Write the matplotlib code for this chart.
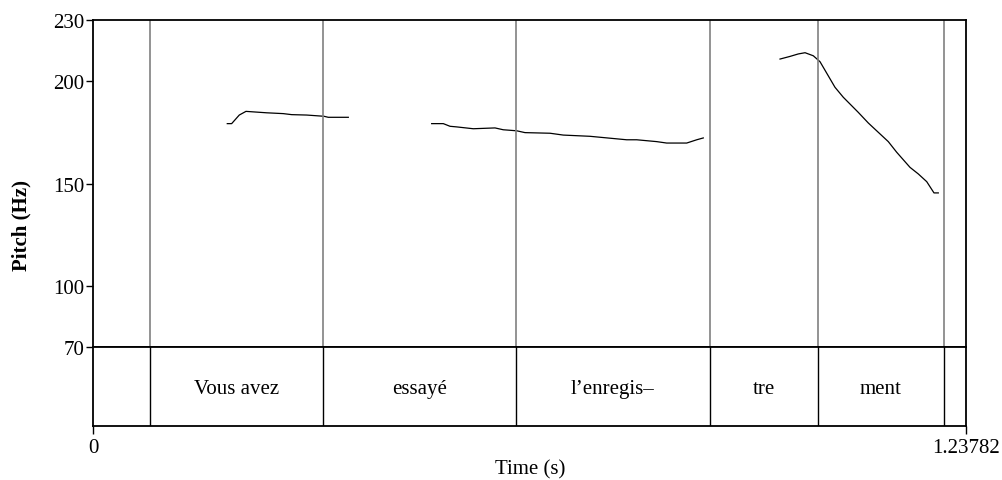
import matplotlib.pyplot as plt

plt.rcParams['font.family'] = ['Liberation Serif', 'DejaVu Serif']

# Pitch contour pieces (time in s, F0 in Hz)
t1 = [0.1904, 0.1966, 0.2074, 0.2169, 0.2463, 0.2698, 0.2817, 0.3030, 0.3275, 0.3336, 0.3620]
f1 = [179.3, 179.3, 183.5, 185.3, 184.6, 184.2, 183.7, 183.5, 182.9, 182.4, 182.4]

t2 = [0.4802, 0.4967, 0.5062, 0.5157, 0.5392, 0.5700, 0.5817, 0.6007, 0.6125, 0.6480,
      0.6668, 0.7047, 0.7567, 0.7709, 0.7992, 0.8134, 0.8418, 0.8560, 0.8653]
f2 = [179.3, 179.3, 178.0, 177.7, 176.8, 177.2, 176.3, 175.8, 174.9, 174.6,
      173.7, 173.1, 171.4, 171.4, 170.5, 169.8, 169.8, 171.4, 172.3]

t3 = [0.9741, 0.9883, 1.0000, 1.0096, 1.0213, 1.0308, 1.0425, 1.0520, 1.0638, 1.0851,
      1.0993, 1.1276, 1.1395, 1.1584, 1.1701, 1.1821, 1.1924, 1.1985]
f3 = [210.9, 212.2, 213.4, 214.0, 212.5, 209.6, 202.7, 197.1, 192.2, 184.8,
      179.6, 170.5, 165.3, 157.9, 154.7, 150.9, 145.4, 145.4]

# TextGrid tier: interval boundaries and labels
t_end = 1.23782
boundaries = [0.0808, 0.3261, 0.5997, 0.8748, 1.0279, 1.2066]
edges = [0.0] + boundaries + [t_end]
labels = ['', 'Vous avez', 'essayé', 'l\u2019enregis\u2013', 'tre', 'ment', '']

pitch_ticks = [70, 100, 150, 200, 230]

fs = 15

fig = plt.figure(figsize=(10.02, 4.81), dpi=100)
ax = fig.add_axes([0.0928, 0.2765, 0.8713, 0.6798])
tier = fig.add_axes([0.0928, 0.1123, 0.8713, 0.1642])

for t, f in [(t1, f1), (t2, f2), (t3, f3)]:
    ax.plot(t, f, color='black', lw=0.9)

for b in boundaries:
    ax.axvline(b, color='#808080', lw=1.2)
    tier.axvline(b, color='black', lw=1.0)

ax.set_xlim(0, t_end)
ax.set_ylim(70, 230)
ax.set_yticks(pitch_ticks)
ax.set_xticks([])
ax.tick_params(axis='y', direction='out', length=5, width=1, labelsize=fs, pad=1)

for i, lab in enumerate(labels):
    tier.text((edges[i] + edges[i + 1]) / 2, 0.48, lab, ha='center', va='center',
              fontsize=fs, transform=tier.get_xaxis_transform())

tier.set_xlim(0, t_end)
tier.set_ylim(0, 1)
tier.set_yticks([])
tier.set_xticks([0, t_end])
tier.set_xticklabels(['0', '1.23782'])
tier.tick_params(axis='x', direction='out', length=6, width=1, labelsize=fs, pad=3)

for a in (ax, tier):
    for s in a.spines.values():
        s.set_linewidth(1.3)

fig.text(0.529, 0.023, 'Time (s)', ha='center', va='center', fontsize=fs)
fig.text(0.021, 0.532, 'Pitch (Hz)', rotation=90, ha='center', va='center',
         fontsize=fs, fontweight='bold')

fig.savefig('out.png', dpi=100)
